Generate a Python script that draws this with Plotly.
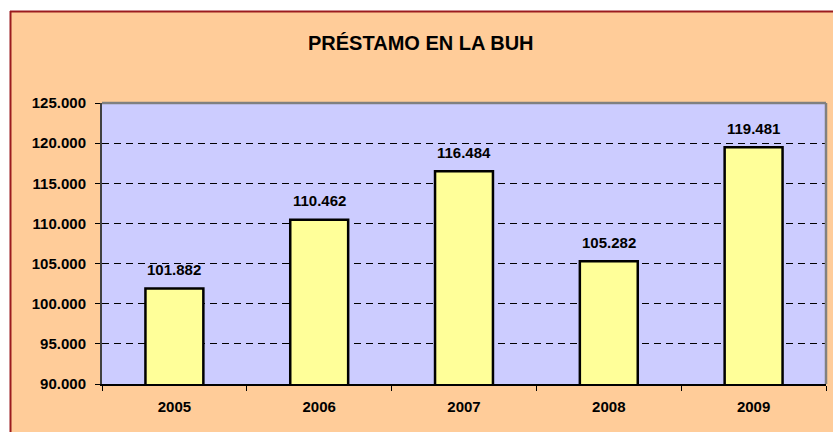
import plotly.graph_objects as go

# ---- data ----
years = ["2005", "2006", "2007", "2008", "2009"]
values = [101882, 110462, 116484, 105282, 119481]
y_ticks = [90000, 95000, 100000, 105000, 110000, 115000, 120000, 125000]
title_text = "PRÉSTAMO EN LA BUH"

# ---- layout constants (pixels) ----
W, H = 833, 432
L, R, T, B = 102, 7, 103, 48
PW, PH = W - L - R, H - T - B

def px_x(px):
    return (px - L) / PW

def px_y(py):
    return 1 - (py - T) / PH

FONT = "Liberation Sans, Arial, sans-serif"
PEACH = "#FFCC99"
BORDER = "#9B1B1F"

fig = go.Figure()
fig.add_trace(go.Bar(
    x=years, y=values,
    marker=dict(color="#FFFF99", line=dict(color="#000000", width=2.5)),
    hoverinfo="skip",
))

annotations = []
for i, v in enumerate(values):
    annotations.append(dict(
        x=i, y=v, xref="x", yref="y",
        text="<b>%s</b>" % f"{v:,}".replace(",", "."),
        showarrow=False, yanchor="middle", yshift=19,
        font=dict(family=FONT, size=15, color="#000000"),
    ))
annotations.append(dict(
    x=px_x(421), y=px_y(43), xref="paper", yref="paper",
    text="<b>%s</b>" % title_text, showarrow=False,
    xanchor="center", yanchor="middle",
    font=dict(family=FONT, size=20, color="#000000"),
))

shapes = [
    dict(type="rect", xref="paper", yref="paper", x0=px_x(-5), x1=px_x(10), y0=px_y(440), y1=px_y(-5),
         fillcolor="white", line=dict(width=0), layer="below"),
    dict(type="rect", xref="paper", yref="paper", x0=px_x(-5), x1=px_x(840), y0=px_y(11), y1=px_y(-5),
         fillcolor="white", line=dict(width=0), layer="below"),
    dict(type="line", xref="paper", yref="paper", x0=px_x(10), x1=px_x(840), y0=px_y(11.5), y1=px_y(11.5),
         line=dict(color=BORDER, width=2), layer="below"),
    dict(type="line", xref="paper", yref="paper", x0=px_x(10.5), x1=px_x(10.5), y0=px_y(11), y1=px_y(440),
         line=dict(color=BORDER, width=2), layer="below"),
    dict(type="line", xref="paper", yref="paper", x0=0, x1=1, y0=1, y1=1,
         line=dict(color="#808080", width=2.5), layer="above"),
    dict(type="line", xref="paper", yref="paper", x0=1, x1=1, y0=0, y1=1,
         line=dict(color="#808080", width=2.5), layer="above"),
]

fig.update_layout(
    width=W, height=H,
    margin=dict(l=L, r=R, t=T, b=B, pad=0),
    paper_bgcolor=PEACH,
    plot_bgcolor="#CCCCFF",
    separators=",.",
    showlegend=False,
    bargap=0.6,
    font=dict(family=FONT, size=15, color="#000000"),
    annotations=annotations,
    shapes=shapes,
    xaxis=dict(
        type="category",
        range=[-0.5, len(years) - 0.5],
        showline=True, linecolor="#000000", linewidth=2,
        ticks="outside", tickson="boundaries", ticklen=5, tickcolor="#000000", tickwidth=1,
        showgrid=False,
        tickfont=dict(family=FONT, size=15, color="#000000", weight="bold"),
        ticklabelstandoff=8,
        tickangle=0,
        fixedrange=True,
    ),
    yaxis=dict(
        range=[90000, 125000],
        tickvals=y_ticks, tickformat=",d",
        showline=True, linecolor="#404040", linewidth=2,
        ticks="outside", ticklen=5, tickcolor="#000000", tickwidth=1,
        showgrid=True, gridcolor="#000000", gridwidth=1, griddash="7px,5px",
        zeroline=False,
        tickfont=dict(family=FONT, size=15, color="#000000", weight="bold"),
        ticklabelstandoff=6,
        fixedrange=True,
    ),
)

fig.write_html(
    "out.html",
    config=dict(displayModeBar=False),
    post_script="document.body.style.margin='0';document.body.style.overflow='hidden';",
)
